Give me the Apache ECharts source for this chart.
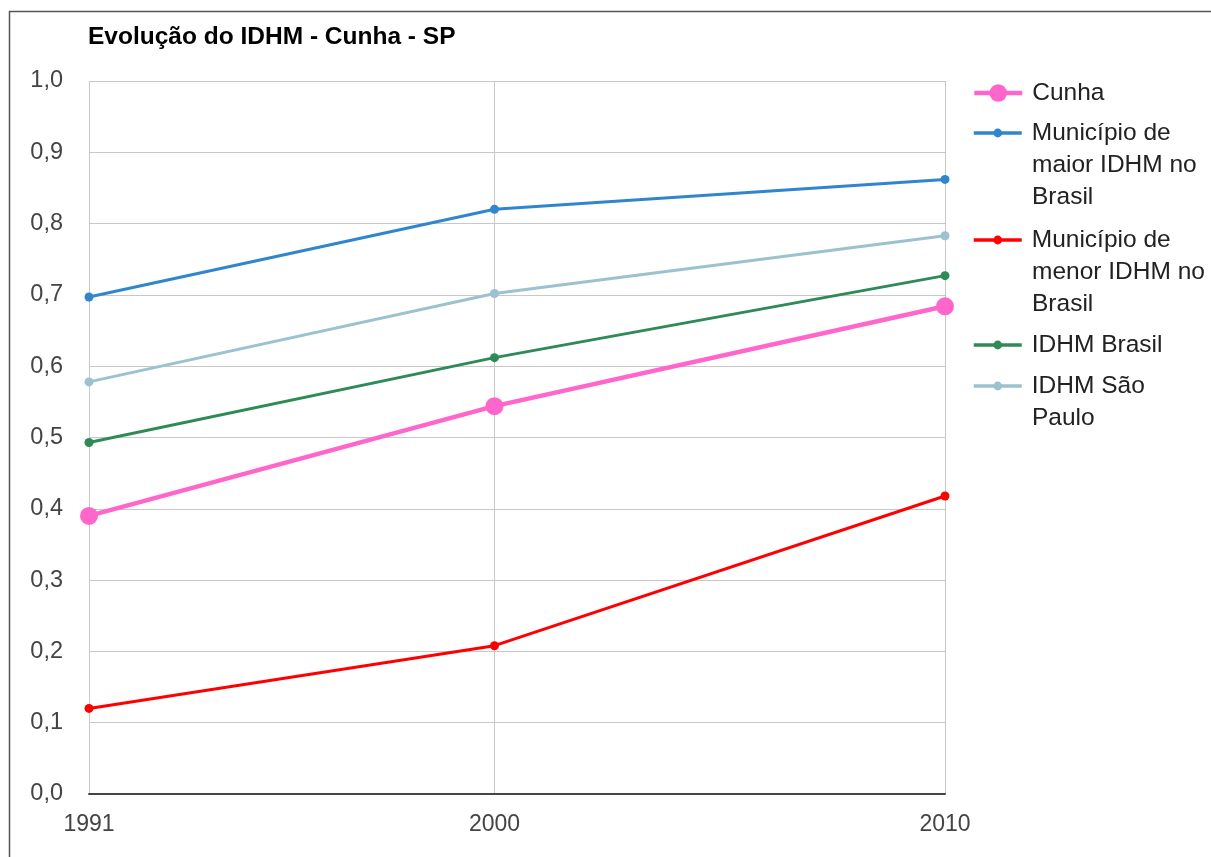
<!DOCTYPE html>
<html>
<head>
<meta charset="utf-8">
<script src="https://cdn.jsdelivr.net/npm/echarts@6/dist/echarts.min.js"></script>
<style>
  html, body { margin: 0; padding: 0; background: #fff; }
  #chart { width: 1211px; height: 857px; }
</style>
</head>
<body>
<div id="chart"></div>
<script>
// dados
const years = [1991, 2000, 2010];
const seriesNames = [
  "Cunha",
  "Município de maior IDHM no Brasil",
  "Município de menor IDHM no Brasil",
  "IDHM Brasil",
  "IDHM São Paulo",
];
// texto da legenda, quebrado em linhas como no original
const legendLines = [
  ["Cunha"],
  ["Município de", "maior IDHM no", "Brasil"],
  ["Município de", "menor IDHM no", "Brasil"],
  ["IDHM Brasil"],
  ["IDHM São", "Paulo"],
];
const cunha = [0.390, 0.544, 0.684];
const maior = [0.697, 0.820, 0.862];
const menor = [0.120, 0.208, 0.418];
const brasil = [0.493, 0.612, 0.727];
const saoPaulo = [0.578, 0.702, 0.783];
const yTicks = [0, 0.1, 0.2, 0.3, 0.4, 0.5, 0.6, 0.7, 0.8, 0.9, 1.0];

const values = [cunha, maior, menor, brasil, saoPaulo];
const colors = ["#ff66cc", "#3085cf", "#ff0000", "#2e8b57", "#9cc2cf"];
const font = "Liberation Sans, Arial, sans-serif";
const legendFontSize = 24.5;
const lineGap = 32;

// centro do ícone de cada item da legenda
const legendCenters = [93, 133, 240, 345, 386];

const chart = echarts.init(document.getElementById("chart"));

const series = values.map((vals, i) => ({
  name: seriesNames[i],
  type: "line",
  data: years.map((y, k) => [y, vals[k]]),
  symbol: "circle",
  symbolSize: i === 0 ? 18 : 9,
  z: i === 0 ? 5 : 3,
  lineStyle: { color: colors[i], width: i === 0 ? 4.5 : 3 },
  itemStyle: { color: colors[i] },
  emphasis: { disabled: true },
}));

const legends = seriesNames.map((name, i) => ({
  data: [name],
  left: 972,
  top: legendCenters[i] - 16,
  padding: 0,
  itemWidth: 48,
  itemHeight: i === 0 ? 22 : 11,
  selectedMode: false,
  lineStyle: { width: i === 0 ? 4.5 : 3.5 },
  formatter: () => legendLines[i][0],
  textStyle: {
    fontFamily: font,
    fontSize: legendFontSize,
    color: "#222",
    lineHeight: 32,
    padding: [0, 0, 0, 5],
  },
}));

// linhas seguintes dos nomes longos da legenda
const legendExtra = [];
legendLines.forEach((lines, i) => {
  lines.slice(1).forEach((txt, k) => {
    legendExtra.push({
      type: "text",
      silent: true,
      style: {
        text: txt,
        x: 1032,
        y: legendCenters[i] + lineGap * (k + 1),
        verticalAlign: "middle",
        fill: "#222",
        font: legendFontSize + "px " + font,
      },
    });
  });
});

const option = {
  animation: false,
  backgroundColor: "#fff",
  title: {
    text: "Evolução do IDHM - Cunha - SP",
    left: 88,
    top: 25,
    padding: 0,
    textStyle: { fontFamily: font, fontSize: 24.5, fontWeight: "bold", color: "#000" },
  },
  legend: legends,
  grid: { left: 89, right: 266, top: 81, bottom: 63 },
  xAxis: {
    type: "value",
    min: 1991,
    max: 2010,
    axisLine: { show: true, lineStyle: { color: "#444", width: 2 } },
    axisTick: { show: false, customValues: years },
    axisLabel: {
      customValues: years,
      margin: 19,
      fontFamily: font,
      fontSize: 23,
      color: "#444",
      formatter: (v) => String(v),
    },
    splitLine: { show: true, lineStyle: { color: "#c8c8c8", width: 1 } },
  },
  yAxis: {
    type: "value",
    min: 0,
    max: 1,
    interval: 0.1,
    axisLine: { show: false },
    axisTick: { show: false },
    axisLabel: {
      margin: 26,
      fontFamily: font,
      fontSize: 23.5,
      color: "#444",
      formatter: (v) => {
        const t = yTicks.find((x) => Math.abs(x - v) < 1e-6);
        return (t === undefined ? v : t).toFixed(1).replace(".", ",");
      },
    },
    splitLine: { show: true, lineStyle: { color: "#c8c8c8", width: 1 } },
  },
  graphic: [
    {
      type: "rect",
      silent: true,
      shape: { x: 9.5, y: 11.5, width: 1240, height: 900 },
      style: { fill: "none", stroke: "#555", lineWidth: 1.5 },
    },
  ].concat(legendExtra),
  series: series,
};

chart.setOption(option);
</script>
</body>
</html>
